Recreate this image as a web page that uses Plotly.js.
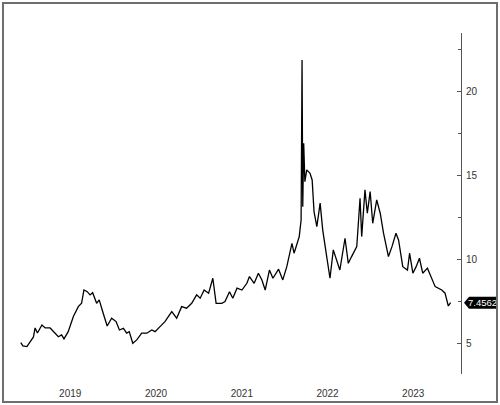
<!DOCTYPE html>
<html>
<head>
<meta charset="utf-8">
<script src="https://cdn.plot.ly/plotly-3.0.1.min.js"></script>
<style>
  html, body { margin: 0; padding: 0; background: #fff; }
  #wrap { position: relative; width: 500px; height: 405px; }
  #chart { width: 500px; height: 405px; }
  #frame { position: absolute; left: 2px; top: 2px; width: 496px; height: 401px;
           box-sizing: border-box; border: 2px solid #6e6e6e; pointer-events: none; }
</style>
</head>
<body>
<div id="wrap"><div id="chart"></div><div id="frame"></div></div>
<script>
const dates = [
  "2018-12-04","2018-12-13","2018-12-30","2019-01-13","2019-01-27","2019-02-03","2019-02-13","2019-03-04",
  "2019-03-18","2019-04-08","2019-04-22","2019-05-13","2019-05-27","2019-06-06","2019-06-24","2019-07-16",
  "2019-08-06","2019-08-20","2019-08-30","2019-09-13","2019-09-25","2019-10-06","2019-10-23","2019-11-03",
  "2019-11-20","2019-12-07","2019-12-26","2020-01-14","2020-01-28","2020-02-14","2020-02-28","2020-03-10",
  "2020-03-25","2020-04-11","2020-05-02","2020-05-24","2020-06-14","2020-06-28","2020-07-19","2020-08-09",
  "2020-09-07","2020-09-28","2020-10-19","2020-11-09","2020-12-01","2020-12-22","2021-01-06","2021-01-23",
  "2021-02-11","2021-03-01","2021-03-15","2021-04-08","2021-04-22","2021-05-11","2021-05-25","2021-06-12",
  "2021-07-03","2021-07-24","2021-08-04","2021-08-24","2021-09-11","2021-09-26","2021-10-10","2021-10-28",
  "2021-11-12","2021-12-06","2021-12-24","2022-01-10","2022-02-01","2022-02-10","2022-02-21","2022-03-04",
  "2022-03-12","2022-03-16","2022-03-19","2022-03-23","2022-03-28","2022-04-05","2022-04-19","2022-04-28",
  "2022-05-06","2022-05-18","2022-06-01","2022-06-12","2022-06-29","2022-07-13","2022-07-27","2022-08-10",
  "2022-08-24","2022-09-15","2022-09-29","2022-10-13","2022-11-04","2022-11-18","2022-11-25","2022-12-09",
  "2022-12-19","2022-12-31","2023-01-11","2023-01-28","2023-02-12","2023-02-26","2023-03-19","2023-04-03",
  "2023-04-20","2023-05-01","2023-05-19","2023-06-08","2023-06-17","2023-07-01","2023-07-15","2023-07-29",
  "2023-08-12","2023-09-01","2023-09-19","2023-10-04","2023-11-01","2023-11-15","2023-11-29","2023-12-09"
];
const values = [
  5.08,4.88,4.84,5.14,5.42,5.95,5.65,6.13,
  5.95,5.95,5.73,5.43,5.54,5.30,5.73,6.63,
  7.22,7.42,8.21,8.11,7.92,8.05,7.42,7.62,
  6.83,6.07,6.53,6.33,5.83,5.93,5.64,5.73,
  5.04,5.24,5.64,5.64,5.83,5.73,6.03,6.33,
  6.92,6.53,7.22,7.13,7.42,7.92,7.72,8.21,
  8.02,8.91,7.42,7.42,7.52,8.11,7.72,8.32,
  8.21,8.61,9.01,8.61,9.21,8.81,8.21,9.40,
  8.91,9.45,8.81,9.60,10.99,10.40,10.89,11.39,
  12.38,21.90,13.17,16.95,14.66,15.36,15.16,14.76,
  12.88,11.98,13.38,11.79,10.20,8.91,10.60,10.00,
  9.40,11.29,9.80,10.20,10.79,13.67,11.39,14.17,
  12.78,14.07,12.18,13.57,12.78,11.59,10.20,10.79,
  11.59,11.19,9.60,9.40,10.40,9.21,9.60,10.10,
  9.21,9.51,8.91,8.41,8.21,8.02,7.26,7.4562
];
const yTicks = [5, 10, 15, 20];
const yMinorTicks = [7.5, 12.5, 17.5, 22.5];
const lastValue = values[values.length - 1];
const lastLabel = lastValue.toFixed(4);

const fontFam = "'Liberation Sans', Arial, sans-serif";

const trace = {
  x: dates, y: values, type: 'scatter', mode: 'lines',
  line: { color: '#000', width: 1.3 },
  hoverinfo: 'skip'
};

const layout = {
  width: 500, height: 405,
  margin: { l: 2, r: 39, t: 33, b: 31 },
  paper_bgcolor: 'rgba(0,0,0,0)', plot_bgcolor: 'rgba(0,0,0,0)',
  showlegend: false,
  font: { family: fontFam, size: 10, color: '#333' },
  xaxis: {
    type: 'date',
    range: ['2018-09-15', '2024-01-22'],
    showgrid: false, zeroline: false, showline: false,
    dtick: 'M12', tick0: '2019-01-01', tickformat: '%Y',
    ticklabelmode: 'period',
    ticks: '', ticklabelstandoff: 12,
    tickfont: { family: fontFam, size: 10, color: '#333' }
  },
  yaxis: {
    side: 'right',
    range: [3.21, 23.51],
    showgrid: false, zeroline: false,
    showline: true, linecolor: '#555', linewidth: 1,
    tickmode: 'array', tickvals: yTicks, ticktext: yTicks.map(String),
    ticks: 'inside', ticklen: 4, tickcolor: '#555',
    minor: { tickmode: 'array', tickvals: yMinorTicks, ticks: 'inside', ticklen: 3, tickcolor: '#555' },
    tickfont: { family: fontFam, size: 10, color: '#333' },
    ticklabelstandoff: 2
  },
  shapes: [{
    type: 'path', xref: 'paper', yref: 'y',
    xsizemode: 'pixel', ysizemode: 'pixel',
    xanchor: 1, yanchor: lastValue,
    path: 'M 3 0 L 8 -6 L 36 -6 L 36 6 L 8 6 Z',
    fillcolor: '#000', line: { width: 0 }
  }],
  annotations: [{
    xref: 'paper', yref: 'y', x: 1, y: lastValue,
    xanchor: 'left', yanchor: 'middle', xshift: 5,
    text: lastLabel, showarrow: false,
    font: { family: fontFam, size: 9.5, color: '#fff' }
  }]
};

Plotly.newPlot('chart', [trace], layout, { displayModeBar: false, staticPlot: true });
</script>
</body>
</html>
